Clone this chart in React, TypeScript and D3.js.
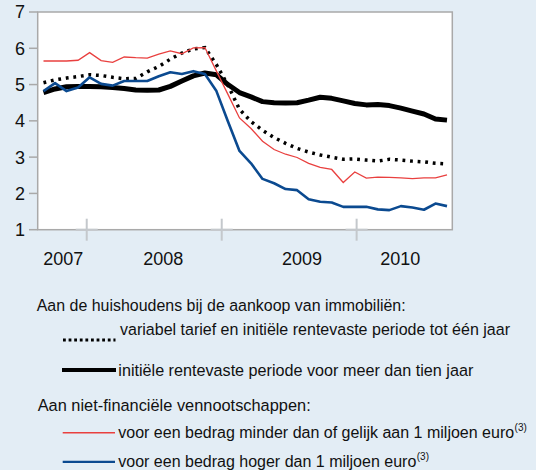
import React from "react";
import * as d3 from "d3";

// Monthly observations (36 months)
const variableRate = [5.05, 5.13, 5.18, 5.22, 5.27, 5.25, 5.2, 5.16, 5.17, 5.35, 5.5, 5.7, 5.87, 5.98, 6.02, 5.55, 4.98, 4.32, 3.98, 3.74, 3.54, 3.38, 3.24, 3.14, 3.06, 3.0, 2.94, 2.95, 2.92, 2.89, 2.94, 2.92, 2.89, 2.87, 2.83, 2.81];
const fixedTenYear = [4.78, 4.88, 4.94, 4.95, 4.95, 4.94, 4.92, 4.89, 4.85, 4.84, 4.85, 4.95, 5.1, 5.24, 5.32, 5.27, 5.0, 4.78, 4.66, 4.53, 4.5, 4.49, 4.5, 4.57, 4.65, 4.62, 4.55, 4.48, 4.44, 4.45, 4.42, 4.35, 4.27, 4.19, 4.05, 4.02];
const smallLoans = [5.65, 5.65, 5.65, 5.67, 5.88, 5.66, 5.61, 5.76, 5.74, 5.73, 5.84, 5.93, 5.85, 6.01, 6.02, 5.37, 4.73, 4.08, 3.79, 3.44, 3.21, 3.08, 2.99, 2.83, 2.72, 2.66, 2.3, 2.59, 2.42, 2.45, 2.44, 2.43, 2.41, 2.43, 2.43, 2.51];
const largeLoans = [4.82, 5.04, 4.82, 4.92, 5.2, 5.02, 4.97, 5.1, 5.1, 5.1, 5.23, 5.34, 5.29, 5.37, 5.29, 4.82, 3.98, 3.17, 2.83, 2.4, 2.28, 2.12, 2.09, 1.84, 1.77, 1.75, 1.63, 1.63, 1.63, 1.56, 1.54, 1.65, 1.61, 1.55, 1.72, 1.65];

const yTicks = [1, 2, 3, 4, 5, 6, 7];
const yearLabels = ["2007", "2008", "2009", "2010"];
const yearLabelPos = [1.72, 10.39, 22.42, 30.94];
const xTickPos = [3.75, 15.46, 27.16];

const BG = "#e3edf5";
const AXIS = "#a9a9a9";
const CROSS = "#c4c8cc";
const RED = "#e9403f";
const BLUE = "#0b4a90";
const FONT = "Liberation Sans, Arial, sans-serif";

export default function App() {
  const x = d3.scaleLinear().domain([0, 35]).range([43.5, 447]);
  const y = d3.scaleLinear().domain([1, 7]).range([229.7, 12]);
  const line = d3
    .line<number>()
    .x((_, i) => x(i))
    .y((d) => y(d));

  const plotL = 37.7;
  const plotR = 452.3;
  const plotT = y(7);
  const plotB = y(1);

  return (
    <svg
      width={536}
      height={470}
      style={{ position: "absolute", left: 0, top: 0 }}
      fontFamily={FONT}
    >
      <rect x={0} y={0} width={536} height={470} fill={BG} />
      <rect
        x={plotL}
        y={plotT}
        width={plotR - plotL}
        height={plotB - plotT}
        fill="#ffffff"
        stroke={AXIS}
        strokeWidth={1.5}
      />
      {yTicks.map((t) => (
        <g key={t}>
          <line x1={29} x2={plotL} y1={y(t)} y2={y(t)} stroke={AXIS} strokeWidth={1.5} />
          <text x={25} y={y(t)} dy="0.36em" textAnchor="end" fontSize={18} fill="#111">
            {t}
          </text>
        </g>
      ))}
      {xTickPos.map((p, i) => (
        <g key={i}>
          <line x1={x(p) - 11} x2={x(p) + 11} y1={plotB} y2={plotB} stroke={CROSS} strokeWidth={2} />
          <line x1={x(p)} x2={x(p)} y1={plotB - 11} y2={plotB + 11} stroke={CROSS} strokeWidth={2} />
        </g>
      ))}
      {yearLabels.map((l, i) => (
        <text key={l} x={x(yearLabelPos[i])} y={265} textAnchor="middle" fontSize={18} fill="#111">
          {l}
        </text>
      ))}

      <path d={line(fixedTenYear) || ""} fill="none" stroke="#000" strokeWidth={5} strokeLinejoin="round" />
      <path d={line(variableRate) || ""} fill="none" stroke="#000" strokeWidth={3.5} strokeDasharray="2.8 4.8" />
      <path d={line(smallLoans) || ""} fill="none" stroke={RED} strokeWidth={1.3} />
      <path d={line(largeLoans) || ""} fill="none" stroke={BLUE} strokeWidth={2.6} strokeLinejoin="round" />

      <g fontSize={16.3} fill="#111">
        <text x={36.7} y={311} textLength={369} lengthAdjust="spacingAndGlyphs">
          Aan de huishoudens bij de aankoop van immobiliën:
        </text>
        <line x1={63} x2={115.5} y1={340} y2={340} stroke="#000" strokeWidth={3} strokeDasharray="2.8 2.8" />
        <text x={120} y={335} textLength={390} lengthAdjust="spacingAndGlyphs">
          variabel tarief en initiële rentevaste periode tot één jaar
        </text>
        <line x1={62} x2={116} y1={370} y2={370} stroke="#000" strokeWidth={4} />
        <text x={118.3} y={375.5} textLength={355} lengthAdjust="spacingAndGlyphs">
          initiële rentevaste periode voor meer dan tien jaar
        </text>
        <text x={37.7} y={411} textLength={273} lengthAdjust="spacingAndGlyphs">
          Aan niet-financiële vennootschappen:
        </text>
        <line x1={62.7} x2={115} y1={432.8} y2={432.8} stroke={RED} strokeWidth={1.5} />
        <text x={118.3} y={438.3} fontSize={16}>
          voor een bedrag minder dan of gelijk aan 1 miljoen euro
          <tspan fontSize={10} dx={0.5} dy={-7}>(3)</tspan>
        </text>
        <line x1={62.7} x2={115} y1={461.8} y2={461.8} stroke={BLUE} strokeWidth={2.2} />
        <text x={118.3} y={467} fontSize={16}>
          voor een bedrag hoger dan 1 miljoen euro
          <tspan fontSize={10} dx={0.5} dy={-7}>(3)</tspan>
        </text>
      </g>
    </svg>
  );
}
